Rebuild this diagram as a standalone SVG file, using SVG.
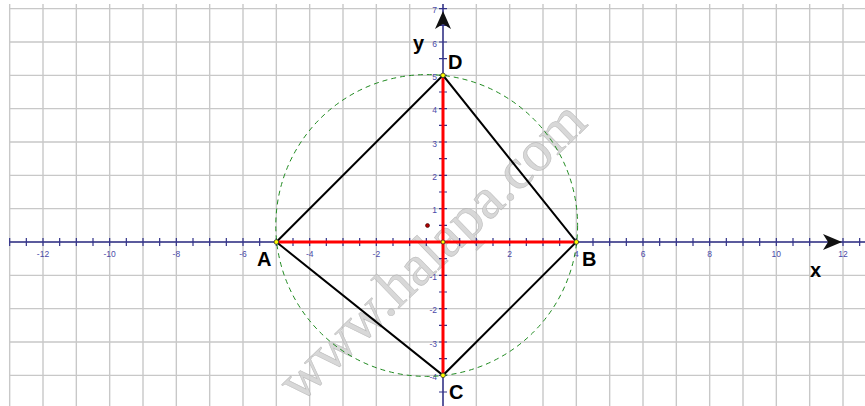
<svg xmlns="http://www.w3.org/2000/svg" width="865" height="406" viewBox="0 0 865 406">
<style>
.grid{stroke:#c8c8c8;stroke-width:1.4;fill:none}
.axis{stroke:#33338a;stroke-width:1.5;fill:none}
.tick{stroke:#33338a;stroke-width:1.2;fill:none}
.num{font-family:"Liberation Sans",Arial,sans-serif;font-size:8.5px;fill:#4a4aa8}
.lbl{font-family:"Liberation Sans",Arial,sans-serif;font-size:20px;font-weight:bold;fill:#000}
.seg{stroke:#000;stroke-width:2;fill:none}
.red{stroke:#ff0000;stroke-width:3;fill:none}
.pt{fill:#ffff00;stroke:#333;stroke-width:0.8}
</style>
<rect width="865" height="406" fill="#fff"/>
<g id="grid">
<path class="grid" d="M9.67 4V406M43 4V406M76.33 4V406M109.67 4V406M143 4V406M176.33 4V406M209.67 4V406M243 4V406M276.33 4V406M309.67 4V406M343 4V406M376.33 4V406M409.67 4V406M443 4V406M476.33 4V406M509.67 4V406M543 4V406M576.33 4V406M609.67 4V406M643 4V406M676.33 4V406M709.67 4V406M743 4V406M776.33 4V406M809.67 4V406M843 4V406"/>
<path class="grid" d="M9.67 8.67H865M9.67 42H865M9.67 75.33H865M9.67 108.67H865M9.67 142H865M9.67 175.33H865M9.67 208.67H865M9.67 242H865M9.67 275.33H865M9.67 308.67H865M9.67 342H865M9.67 375.33H865"/>
</g>
<g id="watermark">
<text x="300" y="404" transform="rotate(-44 300 404)" font-family="'Liberation Serif','Times New Roman',serif" font-size="58" fill="#d2d2d2" stroke="#b4b4b4" stroke-width="0.6" opacity="0.85">www.halapa.com</text>
</g>
<g id="axes">
<path class="axis" d="M9.67 242H865M443 4V406"/>
<path class="tick" d="M9.67 238v8M26.33 238v8M43 238v8M59.67 238v8M76.33 238v8M93 238v8M109.67 238v8M126.33 238v8M143 238v8M159.67 238v8M176.33 238v8M193 238v8M209.67 238v8M226.33 238v8M243 238v8M259.67 238v8M276.33 238v8M293 238v8M309.67 238v8M326.33 238v8M343 238v8M359.67 238v8M376.33 238v8M393 238v8M409.67 238v8M426.33 238v8M459.67 238v8M476.33 238v8M493 238v8M509.67 238v8M526.33 238v8M543 238v8M559.67 238v8M576.33 238v8M593 238v8M609.67 238v8M626.33 238v8M643 238v8M659.67 238v8M676.33 238v8M693 238v8M709.67 238v8M726.33 238v8M743 238v8M759.67 238v8M776.33 238v8M793 238v8M809.67 238v8M843 238v8M859.67 238v8"/>
<path class="tick" d="M439 8.67h8M439 25.33h8M439 42h8M439 58.67h8M439 75.33h8M439 92h8M439 108.67h8M439 125.33h8M439 142h8M439 158.67h8M439 175.33h8M439 192h8M439 208.67h8M439 225.33h8M439 258.67h8M439 275.33h8M439 292h8M439 308.67h8M439 325.33h8M439 342h8M439 358.67h8M439 375.33h8M439 392h8"/>
<path d="M842 242L823 234L828 242L823 250Z" fill="#111"/>
<path d="M443 11L435 29L443 24L451 29Z" fill="#111"/>
<g class="num" text-anchor="middle">
<text x="43" y="257">-12</text><text x="109.67" y="257">-10</text><text x="176.33" y="257">-8</text><text x="243" y="257">-6</text><text x="309.67" y="257">-4</text><text x="376.33" y="257">-2</text><text x="509.67" y="257">2</text><text x="576.33" y="257">4</text><text x="643" y="257">6</text><text x="709.67" y="257">8</text><text x="776.33" y="257">10</text><text x="843" y="257">12</text>
</g>
<g class="num" text-anchor="end">
<text x="437" y="13">7</text><text x="437" y="46.5">6</text><text x="437" y="79.8">5</text><text x="437" y="113">4</text><text x="437" y="146.5">3</text><text x="437" y="179.8">2</text><text x="437" y="213">1</text><text x="437" y="279.8">-1</text><text x="437" y="313">-2</text><text x="437" y="346.5">-3</text><text x="437" y="379.8">-4</text>
</g>
</g>
<g id="connectors">
<circle cx="426.7" cy="225.5" r="150.9" fill="none" stroke="#1f8a1f" stroke-width="1" stroke-dasharray="5 4"/>
<path class="red" d="M276.33 242H576.33M443 75.33V375.33"/>
<path class="seg" d="M276.33 242L443 75.33L576.33 242L443 375.33Z"/>
</g>
<g id="center"><circle cx="427.5" cy="225.5" r="2" fill="#b00000" stroke="#300" stroke-width="0.6"/></g>
<g id="A"><circle class="pt" cx="276.33" cy="242" r="2.3"/><text class="lbl" x="257" y="266">A</text></g>
<g id="B"><circle class="pt" cx="576.33" cy="242" r="2.3"/><text class="lbl" x="582" y="266">B</text></g>
<g id="C"><circle class="pt" cx="443" cy="375.33" r="2.3"/><text class="lbl" x="449" y="399">C</text></g>
<g id="D"><circle class="pt" cx="443" cy="75.33" r="2.3"/><text class="lbl" x="448" y="69">D</text></g>
<g id="O"><circle class="pt" cx="443" cy="242" r="2"/></g>
<g id="labels"><text class="lbl" x="413" y="50">y</text><text class="lbl" x="810" y="277">x</text></g>
</svg>
